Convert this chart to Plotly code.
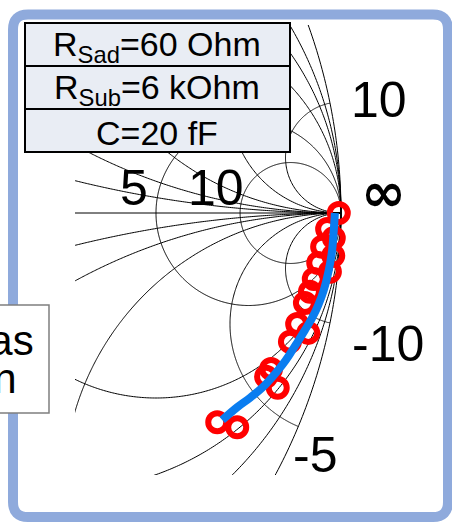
import math
import plotly.graph_objects as go

# ---------------- data (reflection coefficient) ----------------
meas_re = [0.996, 0.975, 0.987, 0.966, 0.986, 0.959, 0.980, 0.951, 0.944,
           0.935, 0.921, 0.941, 0.908, 0.874, 0.865, 0.886, 0.777, 0.813]
meas_im = [0.000, -0.029, -0.045, -0.061, -0.077, -0.090, -0.106, -0.119, -0.142,
           -0.162, -0.200, -0.216, -0.232, -0.281, -0.295, -0.315, -0.377, -0.386]

fit_re = [0.989, 0.987, 0.984, 0.978, 0.969, 0.959, 0.948, 0.935, 0.922,
          0.908, 0.894, 0.863, 0.836, 0.813, 0.786]
fit_im = [0.000, -0.031, -0.067, -0.103, -0.139, -0.166, -0.189, -0.211, -0.232,
          -0.254, -0.274, -0.310, -0.333, -0.350, -0.373]

r_grid = [0, 0.5, 1, 2, 5, 10]
x_grid = [0.5, 1, 2, 5, 10, -0.5, -1, -2, -5, -10]

table_rows = ["R<sub>Sad</sub>=60 Ohm", "R<sub>Sub</sub>=6 kOhm", "C=20 fF"]
r_labels = ["5", "10"]
x_labels = ["10", "∞", "-10", "-5"]
legend_lines = ["Bias", "Scan"]

# ---------------- layout geometry (pixels) ----------------
W, H = 452, 523
L, R, T, B = 75, 355, 25, 475          # plot area
CX, CY, S = 341, 213, 555              # pixel of Gamma=1 and pixels per unit

def px(x):
    return (x - L) / (R - L)

def py(y):
    return (B - y) / (B - T)

def path_of(pts):
    return "M " + " L ".join(f"{a:.5f},{b:.5f}" for a, b in pts)

shapes = []

# ---------------- grid lines (Smith chart) as data-referenced paths ----------------
N = 720
GRID = dict(color="black", width=1)
for r in r_grid:
    c, rad = r / (1 + r), 1 / (1 + r)
    pts = [(c + rad * math.cos(2 * math.pi * k / N), rad * math.sin(2 * math.pi * k / N))
           for k in range(N + 1)]
    shapes.append(dict(type="path", xref="x", yref="y", path=path_of(pts),
                       line=GRID, layer="below"))
for xv in x_grid:
    pts = []
    for k in range(N):
        rr = math.tan((math.pi / 2) * k / N)
        g = (complex(rr, xv) - 1) / (complex(rr, xv) + 1)
        pts.append((g.real, g.imag))
    pts.append((1.0, 0.0))
    shapes.append(dict(type="path", xref="x", yref="y", path=path_of(pts),
                       line=GRID, layer="below"))
shapes.append(dict(type="line", xref="x", yref="y", x0=-1, y0=0, x1=1, y1=0,
                   line=GRID, layer="below"))

fig = go.Figure()
fig.add_trace(go.Scatter(x=meas_re, y=meas_im, mode="markers", cliponaxis=False,
                         marker=dict(symbol="circle-open", size=18, color="#FF0000",
                                     line=dict(width=6, color="#FF0000"))))
fig.add_trace(go.Scatter(x=fit_re, y=fit_im, mode="lines", line_shape="spline",
                         cliponaxis=False,
                         line=dict(color="#0A7DF0", width=8)))

FONT = "Liberation Sans, Arial, sans-serif"
# outer rounded frame
x0, y0, x1, y1, rq = 13, 14.5, 448, 517, 15
pth = (f"M {px(x0+rq)},{py(y0)} L {px(x1-rq)},{py(y0)} Q {px(x1)},{py(y0)} {px(x1)},{py(y0+rq)} "
       f"L {px(x1)},{py(y1-rq)} Q {px(x1)},{py(y1)} {px(x1-rq)},{py(y1)} "
       f"L {px(x0+rq)},{py(y1)} Q {px(x0)},{py(y1)} {px(x0)},{py(y1-rq)} "
       f"L {px(x0)},{py(y0+rq)} Q {px(x0)},{py(y0)} {px(x0+rq)},{py(y0)} Z")
shapes.append(dict(type="path", xref="paper", yref="paper", path=pth,
                   line=dict(color="#8FAADC", width=10), fillcolor="rgba(0,0,0,0)",
                   layer="below"))
# left legend box
shapes.append(dict(type="rect", xref="paper", yref="paper",
                   x0=px(-5), x1=px(49), y0=py(413), y1=py(305),
                   fillcolor="white", line=dict(color="#7F7F7F", width=1.5), layer="above"))
# table
row_y = [23, 66, 109, 152]
for i in range(3):
    shapes.append(dict(type="rect", xref="paper", yref="paper",
                       x0=px(25), x1=px(290), y0=py(row_y[i + 1]), y1=py(row_y[i]),
                       fillcolor="#E9EDF4", line=dict(color="black", width=2), layer="above"))

ann = []
for i, t in enumerate(table_rows):
    ann.append(dict(xref="paper", yref="paper", x=px(157), y=py((row_y[i] + row_y[i + 1]) / 2 + 2),
                    text=t, showarrow=False, xanchor="center", yanchor="middle",
                    font=dict(family=FONT, size=34, color="black")))
lab_pos = {"5": (134, 188), "10": (216, 188)}
for t in r_labels:
    xx, yy = lab_pos[t]
    ann.append(dict(xref="paper", yref="paper", x=px(xx), y=py(yy), text=t, showarrow=False,
                    xanchor="center", yanchor="middle",
                    font=dict(family=FONT, size=50, color="black")))
xlab_pos = [(379, 100), (383, 193), (388, 344), (315, 455)]
for t, (xx, yy) in zip(x_labels, xlab_pos):
    if t == "∞":
        f = dict(family="DejaVu Sans", size=54, color="black", weight="bold")
    else:
        f = dict(family=FONT, size=50, color="black")
    ann.append(dict(xref="paper", yref="paper", x=px(xx), y=py(yy), text=t, showarrow=False,
                    xanchor="center", yanchor="middle", font=f))
for t, (xx, yy) in zip(legend_lines, [(36, 340), (19, 378)]):
    ann.append(dict(xref="paper", yref="paper", x=px(xx), y=py(yy), text=t, showarrow=False,
                    xanchor="right", yanchor="middle",
                    font=dict(family=FONT, size=42, color="black")))

fig.update_layout(
    width=W, height=H, autosize=False,
    margin=dict(l=L, r=W - R, t=T, b=H - B, pad=0),
    paper_bgcolor="white", plot_bgcolor="rgba(0,0,0,0)",
    showlegend=False,
    xaxis=dict(range=[1 + (L - CX) / S, 1 + (R - CX) / S], visible=False, fixedrange=True),
    yaxis=dict(range=[(CY - B) / S, (CY - T) / S], visible=False, fixedrange=True),
    shapes=shapes, annotations=ann,
)
fig.write_html("out.html", config={"displayModeBar": False},
               post_script="document.body.style.margin='0px';document.body.style.overflow='hidden';")
